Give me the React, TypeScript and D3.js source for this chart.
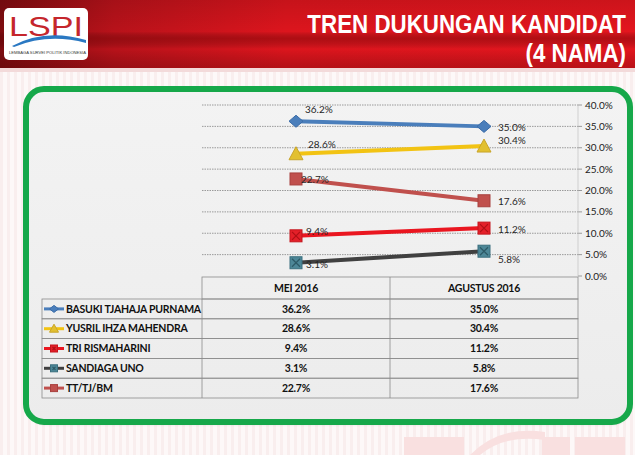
import React from "react";
import * as d3 from "d3";

const categories = ["MEI 2016", "AGUSTUS 2016"];
const seriesNames = [
  "BASUKI TJAHAJA PURNAMA",
  "YUSRIL IHZA MAHENDRA",
  "TRI RISMAHARINI",
  "SANDIAGA UNO",
  "TT/TJ/BM",
];
const basuki = [36.2, 35.0];
const yusril = [28.6, 30.4];
const tri = [9.4, 11.2];
const sandiaga = [3.1, 5.8];
const ttjbm = [22.7, 17.6];
const yTicks = [0, 5, 10, 15, 20, 25, 30, 35, 40];

const seriesValues = [basuki, yusril, tri, sandiaga, ttjbm];

// styles (not data)
const styles = [
  { line: "#4a7ebb", fill: "#4a7ebb", stroke: "#3b6ca8", marker: "diamond", cross: null },
  { line: "#f2c313", fill: "#e2c030", stroke: "#c9a52a", marker: "triangle", cross: null },
  { line: "#ea1620", fill: "#e42029", stroke: "#c4151c", marker: "square", cross: "#b01015" },
  { line: "#404040", fill: "#4d8797", stroke: "#3a6f7e", marker: "square", cross: "#2d5a66" },
  { line: "#c0504d", fill: "#c0504d", stroke: "#a8413e", marker: "square", cross: null },
];
// label offsets [dx, dy] per series, per category
const labelOffsets = [
  [[9, -12], [14, 1]],
  [[12, -9], [14, -6]],
  [[10, -4], [14, 1]],
  [[10, 2], [14, 8]],
  [[5, 1], [14, 1]],
];

const FONT = "Lato, 'Open Sans', 'Liberation Sans', sans-serif";

function Marker({ type, x, y, s, fill, stroke, cross }: any) {
  const h = s / 2;
  if (type === "diamond") {
    return (
      <path
        d={`M${x - h - 1},${y} L${x},${y - h} L${x + h + 1},${y} L${x},${y + h} Z`}
        fill={fill}
        stroke={stroke}
        strokeWidth={1}
      />
    );
  }
  if (type === "triangle") {
    return (
      <path
        d={`M${x},${y - h - 1} L${x + h + 1},${y + h} L${x - h - 1},${y + h} Z`}
        fill={fill}
        stroke={stroke}
        strokeWidth={1}
      />
    );
  }
  return (
    <g>
      <rect x={x - h} y={y - h} width={s} height={s} fill={fill} stroke={stroke} strokeWidth={1} />
      {cross && (
        <path
          d={`M${x - h + 2},${y - h + 2} L${x + h - 2},${y + h - 2} M${x + h - 2},${y - h + 2} L${x - h + 2},${y + h - 2}`}
          stroke={cross}
          strokeWidth={1.2}
        />
      )}
    </g>
  );
}

export default function App() {
  const W = 635,
    H = 455;
  const plotLeft = 202,
    plotRight = 578;
  const x = d3.scaleBand<string>().domain(categories).range([plotLeft, plotRight]);
  const xc = (c: string) => (x(c) as number) + x.bandwidth() / 2;
  const y = d3.scaleLinear().domain([0, 40]).range([276, 105]);
  const fmt = (v: number) => d3.format(".1f")(v) + "%";

  const headerTop = 277;
  const rowTop = 299;
  const rowH = 19.8;
  const tableLeft = 42;
  const lineGen = d3
    .line<number>()
    .x((_, i) => xc(categories[i]))
    .y((d) => y(d));

  return (
    <svg
      width={W}
      height={H}
      style={{ position: "absolute", left: 0, top: 0, display: "block" }}
      xmlns="http://www.w3.org/2000/svg"
    >
      <defs>
        <linearGradient id="banner" x1="0" y1="0" x2="1" y2="0">
          <stop offset="0" stopColor="#7e0c10" />
          <stop offset="0.18" stopColor="#b8121a" />
          <stop offset="0.45" stopColor="#dc151d" />
          <stop offset="1" stopColor="#e3161e" />
        </linearGradient>
        <linearGradient id="bannerShade" x1="0" y1="0" x2="0" y2="1">
          <stop offset="0" stopColor="#000" stopOpacity="0.1" />
          <stop offset="0.45" stopColor="#000" stopOpacity="0" />
          <stop offset="0.55" stopColor="#5a0000" stopOpacity="0.35" />
          <stop offset="0.7" stopColor="#000" stopOpacity="0" />
          <stop offset="1" stopColor="#300" stopOpacity="0.25" />
        </linearGradient>
        <linearGradient id="panel" x1="0" y1="0" x2="0" y2="1">
          <stop offset="0" stopColor="#f3f3f3" />
          <stop offset="1" stopColor="#ececec" />
        </linearGradient>
        <pattern id="stripes" width="7" height="10" patternUnits="userSpaceOnUse">
          <rect width="7" height="10" fill="#fdf8f8" />
          <rect width="3" height="10" fill="#f9eeee" />
        </pattern>
        <filter id="shadow" x="-5%" y="-5%" width="110%" height="110%">
          <feGaussianBlur stdDeviation="2" />
        </filter>
      </defs>

      {/* page background */}
      <rect width={W} height={H} fill="url(#stripes)" />
      {/* faint watermark */}
      <g fill="#f9e0e0">
        <rect x={404} y={437} width={60} height={18} />
        <path d="M470,455 Q500,425 545,432 L545,440 Q505,434 480,455 Z" />
        <rect x={542} y={437} width={28} height={18} />
        <rect x={575} y={437} width={50} height={18} />
      </g>

      {/* banner */}
      <rect x={0} y={0} width={W} height={70} fill="url(#banner)" />
      <rect x={0} y={0} width={W} height={70} fill="url(#bannerShade)" />
      <rect x={0} y={68} width={W} height={4} fill="#f3dada" />

      {/* logo */}
      <rect x={4} y={8} width={84} height={52} rx={5} fill="#ffffff" />
      <text
        x={9}
        y={36}
        fontSize={28}
        fontFamily="'Liberation Sans', Arial, sans-serif"
        fill="#c5262c"
        textLength={74}
        lengthAdjust="spacingAndGlyphs"
      >
        LSPI
      </text>
      <path d="M12,46 Q45,28 86,40 L86,43 Q48,33 14,47 Z" fill="#2a78c2" />
      <text
        x={9}
        y={53.5}
        fontSize={4.2}
        fontFamily="'Liberation Sans', Arial, sans-serif"
        fill="#333"
        textLength={77}
        lengthAdjust="spacingAndGlyphs"
      >
        LEMBAGA SURVEI POLITIK INDONESIA
      </text>

      {/* title */}
      <g
        transform="translate(626,0) scale(0.86,1)"
        fontSize={26}
        fontWeight="bold"
        fontFamily="'Liberation Sans', Arial, sans-serif"
        fill="#ffffff"
      >
        <text x={0} y={33} textAnchor="end">
          TREN DUKUNGAN KANDIDAT
        </text>
        <text x={0} y={62} textAnchor="end">
          (4 NAMA)
        </text>
      </g>

      {/* panel */}
      <rect x={30} y={93} width={598} height={330} rx={16} fill="#000" opacity={0.25} filter="url(#shadow)" />
      <rect x={26} y={89} width={604} height={333} rx={18} fill="url(#panel)" stroke="#16a84a" strokeWidth={6} />

      {/* gridlines */}
      {yTicks.map((t) => (
        <g key={t}>
          {t > 0 && (
            <line
              x1={plotLeft}
              x2={plotRight}
              y1={y(t)}
              y2={y(t)}
              stroke="#9a9a9a"
              strokeWidth={1}
              strokeDasharray="1.5,1"
            />
          )}
          <line x1={plotRight} x2={plotRight + 4} y1={y(t)} y2={y(t)} stroke="#9a9a9a" />
          <text x={585} y={y(t)} dy="0.35em" fontSize={10} fontFamily={FONT} fill="#222">
            {fmt(t)}
          </text>
        </g>
      ))}
      <line x1={plotRight} x2={plotRight} y1={y(40)} y2={y(0)} stroke="#bbb" strokeWidth={0.6} />

      {/* lines */}
      {seriesValues.map((vals, si) => (
        <path
          key={"l" + si}
          d={lineGen(vals) as string}
          fill="none"
          stroke={styles[si].line}
          strokeWidth={4}
          strokeLinecap="round"
        />
      ))}
      {/* markers */}
      {seriesValues.map((vals, si) =>
        vals.map((v, ci) => (
          <Marker
            key={"m" + si + ci}
            type={styles[si].marker}
            x={xc(categories[ci])}
            y={y(v)}
            s={12}
            fill={styles[si].fill}
            stroke={styles[si].stroke}
            cross={styles[si].cross}
          />
        ))
      )}
      {/* data labels */}
      {seriesValues.map((vals, si) =>
        vals.map((v, ci) => (
          <text
            key={"t" + si + ci}
            x={xc(categories[ci]) + labelOffsets[si][ci][0]}
            y={y(v) + labelOffsets[si][ci][1]}
            dy="0.35em"
            fontSize={10}
            fontFamily={FONT}
            fill="#262626"
          >
            {fmt(v)}
          </text>
        ))
      )}

      {/* data table */}
      <g fontFamily={FONT} fontWeight="bold" fontSize={10.5} letterSpacing={-0.25} fill="#111">
        <rect
          x={plotLeft}
          y={headerTop}
          width={plotRight - plotLeft}
          height={rowTop - headerTop}
          fill="none"
          stroke="#8c8c8c"
          strokeWidth={0.8}
        />
        <line
          x1={plotLeft + x.bandwidth()}
          x2={plotLeft + x.bandwidth()}
          y1={headerTop}
          y2={rowTop + rowH * seriesNames.length}
          stroke="#8c8c8c"
          strokeWidth={0.8}
        />
        {categories.map((c) => (
          <text key={c} x={xc(c)} y={(headerTop + rowTop) / 2} dy="0.35em" textAnchor="middle">
            {c}
          </text>
        ))}
        {seriesNames.map((name, si) => {
          const ry = rowTop + si * rowH;
          const cy = ry + rowH / 2;
          const st = styles[si];
          return (
            <g key={name}>
              <rect
                x={tableLeft}
                y={ry}
                width={plotRight - tableLeft}
                height={rowH}
                fill="none"
                stroke="#8c8c8c"
                strokeWidth={0.8}
              />
              <line x1={plotLeft} x2={plotLeft} y1={ry} y2={ry + rowH} stroke="#8c8c8c" strokeWidth={0.8} />
              <line x1={44} x2={64} y1={cy} y2={cy} stroke={st.line} strokeWidth={3} />
              <Marker type={st.marker} x={54} y={cy} s={7} fill={st.fill} stroke={st.stroke} cross={st.cross} />
              <text x={66} y={cy} dy="0.35em">
                {name}
              </text>
              {seriesValues[si].map((v, ci) => (
                <text key={ci} x={xc(categories[ci])} y={cy} dy="0.35em" textAnchor="middle">
                  {fmt(v)}
                </text>
              ))}
            </g>
          );
        })}
      </g>
    </svg>
  );
}
